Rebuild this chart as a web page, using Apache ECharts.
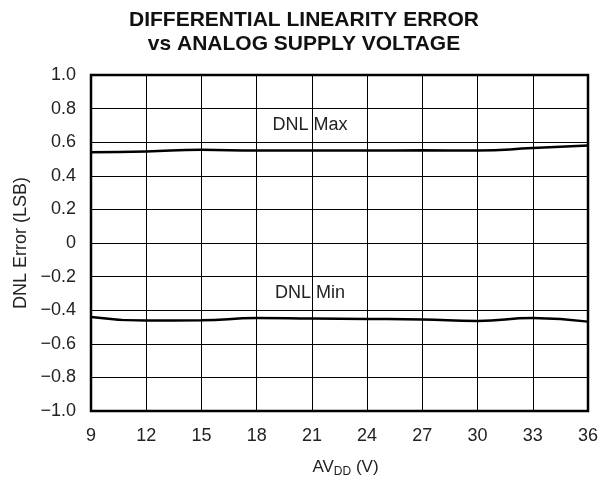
<!DOCTYPE html>
<html>
<head>
<meta charset="utf-8">
<script src="https://cdn.jsdelivr.net/npm/echarts@6/dist/echarts.min.js"></script>
<style>
  html, body { margin: 0; padding: 0; background: #fff; }
  #main { width: 608px; height: 479px; }
</style>
</head>
<body>
<div id="main"></div>
<script>
// supply voltage (V)
const voltage = [9, 12, 15, 18, 21, 24, 27, 30, 33, 36]
// DNL error (LSB)
const dnlMax = [0.54, 0.545, 0.555, 0.55, 0.55, 0.55, 0.552, 0.55, 0.565, 0.58]
const dnlMin = [-0.44, -0.462, -0.46, -0.447, -0.45, -0.452, -0.455, -0.464, -0.447, -0.468]

const toPairs = function (ys) {
  return voltage.map(function (v, i) { return [v, ys[i]] })
}

const chart = echarts.init(document.getElementById('main'))
const font = 'Liberation Sans, Arial, sans-serif'

chart.setOption({
  animation: false,
  title: {
    text: 'DIFFERENTIAL LINEARITY ERROR\nvs ANALOG SUPPLY VOLTAGE',
    left: 'center',
    top: 3,
    textStyle: { fontFamily: font, fontSize: 21, fontWeight: 'bold', color: '#111', lineHeight: 24 }
  },
  grid: { left: 91, right: 20, top: 75, bottom: 68, outerBoundsMode: 'none' },
  xAxis: {
    type: 'value',
    min: 9,
    max: 36,
    interval: 3,
    name: '{a|AV}{s|DD}{a| (V)}',
    nameLocation: 'middle',
    nameGap: 46,
    nameTextStyle: {
      padding: [0, 0, 0, 12],
      rich: {
        a: { fontFamily: font, fontSize: 17, color: '#222' },
        s: { fontFamily: font, fontSize: 12, color: '#222', padding: [9, 0, 0, 0] }
      }
    },
    axisLine: { show: false },
    axisTick: { show: false },
    axisLabel: { fontFamily: font, fontSize: 18, color: '#222', margin: 16 },
    splitLine: { lineStyle: { color: '#000', width: 1 } }
  },
  yAxis: {
    type: 'value',
    min: -1,
    max: 1,
    interval: 0.2,
    name: 'DNL Error (LSB)',
    nameLocation: 'middle',
    nameGap: 56,
    nameTextStyle: { fontFamily: font, fontSize: 18, color: '#222' },
    axisLine: { show: false },
    axisTick: { show: false },
    axisLabel: {
      fontFamily: font, fontSize: 18, color: '#222', margin: 15,
      formatter: function (v) {
        if (Math.abs(v) < 1e-9) return '0'
        const s = Math.abs(v).toFixed(1)
        return v < 0 ? '\u2212' + s : s
      }
    },
    splitLine: { lineStyle: { color: '#000', width: 1 } }
  },
  series: [
    {
      type: 'line',
      data: toPairs(dnlMax),
      smooth: true,
      symbol: 'none',
      lineStyle: { color: '#000', width: 2.5 },
      markPoint: {
        symbol: 'rect',
        symbolSize: 0,
        data: [{ coord: [20.9, 0.7], label: { show: true, formatter: 'DNL Max', fontFamily: font, fontSize: 18, color: '#222' } }]
      }
    },
    {
      type: 'line',
      data: toPairs(dnlMin),
      smooth: true,
      symbol: 'none',
      lineStyle: { color: '#000', width: 2.5 },
      markPoint: {
        symbol: 'rect',
        symbolSize: 0,
        data: [{ coord: [20.9, -0.3], label: { show: true, formatter: 'DNL Min', fontFamily: font, fontSize: 18, color: '#222' } }]
      }
    }
  ],
  graphic: [
    {
      type: 'rect',
      shape: { x: 91, y: 75, width: 497, height: 336 },
      style: { fill: 'none', stroke: '#000', lineWidth: 2.5 },
      z: 10
    }
  ]
})
</script>
</body>
</html>
